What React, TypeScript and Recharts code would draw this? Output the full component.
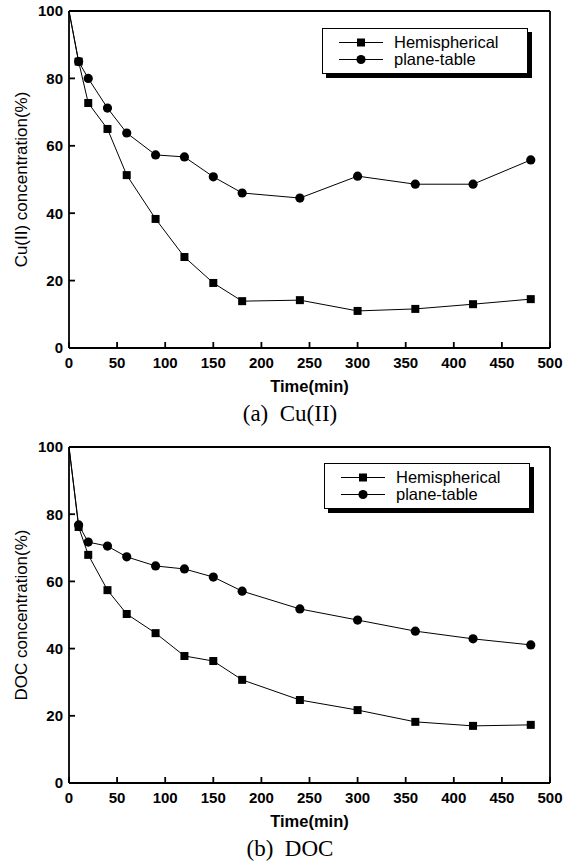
import { LineChart, Line, XAxis, YAxis, ReferenceLine, Legend, Label } from "recharts";

const times = [0, 10, 20, 40, 60, 90, 120, 150, 180, 240, 300, 360, 420, 480];
const cuHemispherical = [100, 85, 72.7, 65, 51.3, 38.3, 27, 19.3, 13.9, 14.2, 11, 11.6, 13, 14.5];
const cuPlaneTable = [100, 85, 80, 71.2, 63.8, 57.3, 56.7, 50.8, 46, 44.5, 51, 48.6, 48.6, 55.8];
const docHemispherical = [100, 76.2, 67.9, 57.4, 50.3, 44.6, 37.8, 36.3, 30.7, 24.7, 21.7, 18.2, 17, 17.3];
const docPlaneTable = [100, 76.8, 71.7, 70.5, 67.3, 64.6, 63.7, 61.3, 57.1, 51.8, 48.5, 45.2, 42.9, 41.1];
const xTicks = [0, 50, 100, 150, 200, 250, 300, 350, 400, 450, 500];
const yTicks = [0, 20, 40, 60, 80, 100];
const seriesNames = ["Hemispherical", "plane-table"];

const sans = "'Liberation Sans', Arial, Helvetica, sans-serif";

const SquareDot = (props: any) => {
  const { cx, cy, index } = props;
  if (index === 0 || cx == null) return <g key={`s${index}`} />;
  return <rect key={`s${index}`} x={cx - 4} y={cy - 4} width={8} height={8} fill="#000" />;
};

const CircleDot = (props: any) => {
  const { cx, cy, index } = props;
  if (index === 0 || cx == null) return <g key={`c${index}`} />;
  return <circle key={`c${index}`} cx={cx} cy={cy} r={4.6} fill="#000" />;
};

function LegendBox() {
  const row = (name: string, marker: "square" | "circle") => (
    <div style={{ display: "flex", alignItems: "center", height: 17 }}>
      <svg width={70} height={17} style={{ display: "block" }}>
        <line x1={16} y1={8.5} x2={60} y2={8.5} stroke="#000" strokeWidth={1} />
        {marker === "square" ? (
          <rect x={34} y={4.5} width={8} height={8} fill="#000" />
        ) : (
          <circle cx={38} cy={8.5} r={4.6} fill="#000" />
        )}
      </svg>
      <span style={{ fontFamily: sans, fontSize: 16.5, color: "#000", marginLeft: 1 }}>{name}</span>
    </div>
  );
  return (
    <div
      style={{
        width: 206,
        height: 46,
        boxSizing: "border-box",
        border: "1px solid #000",
        background: "#fff",
        boxShadow: "4px 4px 0 #000",
        paddingTop: 5,
      }}
    >
      {row(seriesNames[0], "square")}
      {row(seriesNames[1], "circle")}
    </div>
  );
}

function Panel({
  top,
  hemi,
  plane,
  yTitle,
  caption,
  bottomMargin,
  legendLeft,
  legendTop,
}: {
  top: number;
  hemi: number[];
  plane: number[];
  yTitle: string;
  caption: string;
  bottomMargin: number;
  legendLeft: number;
  legendTop: number;
}) {
  const data = times.map((t, i) => ({ t, h: hemi[i], p: plane[i] }));
  const plotBottom = 400 - bottomMargin - 40;
  return (
    <div style={{ position: "absolute", left: 0, top, width: 569, height: 440 }}>
      <LineChart width={569} height={400} data={data} margin={{ top: 11, right: 19, left: 0, bottom: bottomMargin }}>
        <XAxis
          dataKey="t"
          type="number"
          domain={[0, 500]}
          ticks={xTicks}
          interval={0}
          height={40}
          tickSize={-6}
          tickMargin={15}
          stroke="#000"
          strokeWidth={1.8}
          tick={{ fill: "#000", fontSize: 15, fontWeight: 700, fontFamily: sans }}
        >
          <Label
            content={({ viewBox }: any) => (
              <text
                x={viewBox.x + viewBox.width / 2}
                y={viewBox.y + 38}
                textAnchor="middle"
                dominantBaseline="central"
                fontFamily={sans}
                fontSize={16.5}
                fontWeight={700}
                fill="#000"
              >
                Time(min)
              </text>
            )}
          />
        </XAxis>
        <YAxis
          type="number"
          domain={[0, 100]}
          ticks={yTicks}
          interval={0}
          width={69}
          tickSize={-6}
          tickMargin={12}
          stroke="#000"
          strokeWidth={1.8}
          tick={{ fill: "#000", fontSize: 15, fontWeight: 700, fontFamily: sans }}
        >
          <Label
            content={({ viewBox }: any) => {
              const cy = viewBox.y + viewBox.height / 2;
              return (
                <text
                  x={21}
                  y={cy}
                  transform={`rotate(-90 21 ${cy})`}
                  textAnchor="middle"
                  dominantBaseline="central"
                  fontFamily={sans}
                  fontSize={17}
                  fill="#000"
                >
                  {yTitle}
                </text>
              );
            }}
          />
        </YAxis>
        <ReferenceLine y={100} stroke="#000" strokeWidth={1.8} />
        <ReferenceLine x={500} stroke="#000" strokeWidth={1.8} />
        <Legend
          layout="horizontal"
          verticalAlign="middle"
          align="center"
          content={() => <LegendBox />}
          wrapperStyle={{ position: "absolute", left: legendLeft, top: legendTop, width: 212, height: 52 }}
        />
        <Line
          dataKey="h"
          name={seriesNames[0]}
          stroke="#000"
          strokeWidth={1}
          dot={SquareDot}
          activeDot={false}
          isAnimationActive={false}
        />
        <Line
          dataKey="p"
          name={seriesNames[1]}
          stroke="#000"
          strokeWidth={1}
          dot={CircleDot}
          activeDot={false}
          isAnimationActive={false}
        />
      </LineChart>
      <div
        style={{
          position: "absolute",
          left: 0,
          width: 580,
          top: plotBottom + 66 - 14,
          height: 28,
          lineHeight: "28px",
          textAlign: "center",
          fontFamily: "'Liberation Serif', 'Times New Roman', serif",
          fontSize: 23,
          whiteSpace: "pre",
          color: "#000",
        }}
      >
        {caption}
      </div>
    </div>
  );
}

export default function App() {
  return (
    <div style={{ position: "absolute", left: 0, top: 0, width: 569, height: 867, background: "#fff", overflow: "hidden" }}>
      <Panel
        top={0}
        hemi={cuHemispherical}
        plane={cuPlaneTable}
        yTitle="Cu(II) concentration(%)"
        caption="(a)  Cu(II)"
        bottomMargin={12}
        legendLeft={322}
        legendTop={28}
      />
      <Panel
        top={436}
        hemi={docHemispherical}
        plane={docPlaneTable}
        yTitle="DOC concentration(%)"
        caption="(b)  DOC"
        bottomMargin={13}
        legendLeft={324}
        legendTop={27}
      />
    </div>
  );
}
